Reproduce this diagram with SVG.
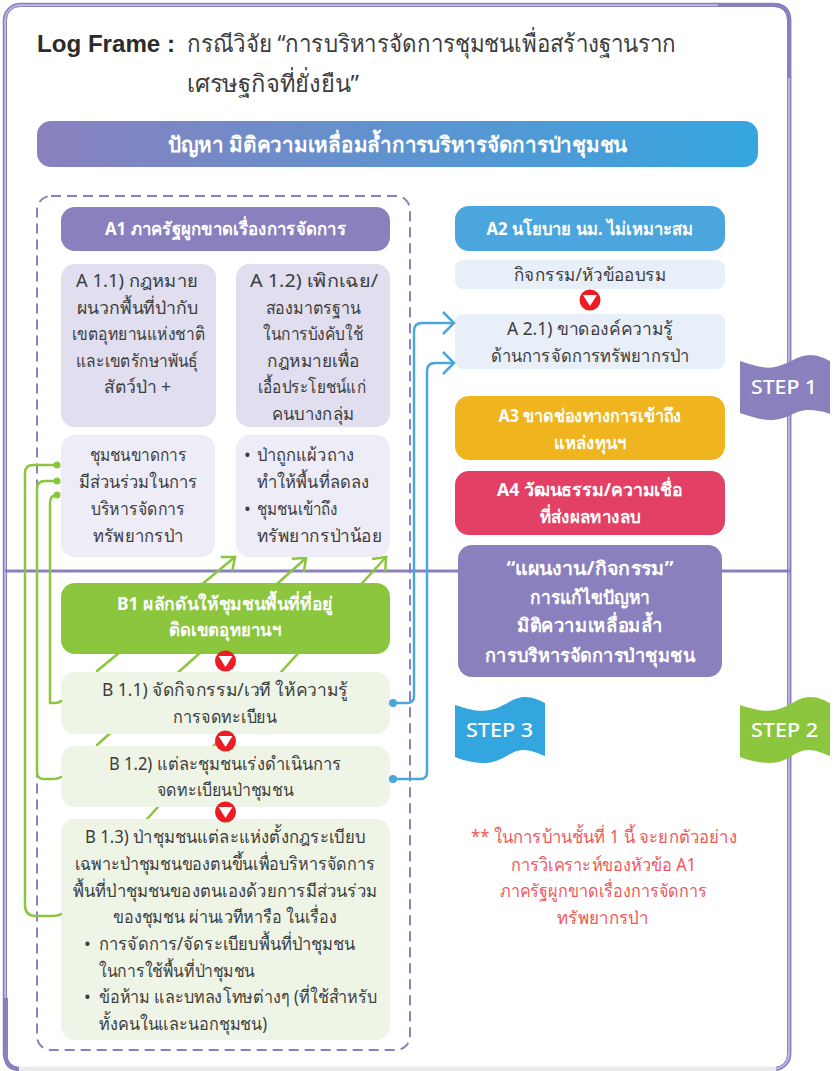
<svg xmlns="http://www.w3.org/2000/svg" width="837" height="1071" viewBox="0 0 837 1071">
<style>
text{font-family:"Noto Sans","Liberation Sans","DejaVu Sans",sans-serif;font-size:18px;fill:#3d3d3d;text-anchor:middle}
.l{text-anchor:start}
.w{fill:#fff;font-weight:700}
.r{fill:#f0575a}
.g{fill:none;stroke:#8cc63f;stroke-width:2.5;stroke-linecap:round;stroke-linejoin:round}
.b{fill:none;stroke:#4ba6de;stroke-width:2.5;stroke-linejoin:round}
.tri{fill:#fff}
.cir{fill:#ed1c24}
</style>
<defs>
<linearGradient id="hd"><stop offset="0" stop-color="#8a80be"/><stop offset="1" stop-color="#33a6e0"/></linearGradient>
<marker id="ga" markerUnits="userSpaceOnUse" markerWidth="24" markerHeight="24" refX="18" refY="12" orient="auto"><path d="M7 3 L18 12 L7 21" fill="none" stroke="#8cc63f" stroke-width="2.5"/></marker>
<marker id="ba" markerUnits="userSpaceOnUse" markerWidth="24" markerHeight="24" refX="18" refY="12" orient="auto"><path d="M7 1 L18 12 L7 23" fill="none" stroke="#4ba6de" stroke-width="2.5"/></marker>
<g id="rd"><circle class="cir" r="10.5"/><path class="tri" d="M-7 -5 H7 L0 6 Z"/></g>
</defs>
<rect width="837" height="1071" fill="#fff"/>
<g id="frame" fill="none">
<rect x="5" y="5" width="784.500" height="1064" rx="15" stroke="#c0bbdf" stroke-width="4"/>
<rect x="3.500" y="3.500" width="787" height="1067" rx="17" stroke="#8a80be" stroke-width="1.500"/>
<rect x="6.500" y="6.500" width="781" height="1061" rx="13" stroke="#8a80be" stroke-width="1"/>
<path d="M18 1069 H776" stroke="#ececec" stroke-width="5"/>
<path d="M718 5 H774 Q789 5 789 20 V78" stroke="#8a80be" stroke-width="4"/>
<path d="M6 998 V1056 Q6 1069 19 1069" stroke="#8a80be" stroke-width="4"/>
<path d="M5 571 H790" stroke="#8a80be" stroke-width="3"/>
</g>
<rect id="dash" x="37" y="196" width="373" height="854" rx="14" fill="none" stroke="#8a80be" stroke-width="2" stroke-dasharray="10 6"/>
<g id="connectors-back">
<path class="g" d="M97 671 L235 557" marker-end="url(#ga)"/>
<path class="g" d="M97 745 L306 558" marker-end="url(#ga)"/>
<path class="g" d="M147 819 L386 557" marker-end="url(#ga)"/>
</g>
<g id="title"><text class="l" x="37" y="52" style="font-size:24px;font-weight:700;fill:#2b2b2b;font-family:'Liberation Sans',sans-serif" textLength="138" lengthAdjust="spacingAndGlyphs">Log Frame :</text>
<text class="l" x="187" y="52" style="font-size:24px" textLength="489" lengthAdjust="spacingAndGlyphs">กรณีวิจัย “การบริหารจัดการชุมชนเพื่อสร้างฐานราก</text>
<text class="l" x="187" y="92" style="font-size:24px" textLength="172" lengthAdjust="spacingAndGlyphs">เศรษฐกิจที่ยั่งยืน”</text></g>
<g id="header"><rect x="37" y="121" width="721" height="46" rx="14" fill="url(#hd)"/><text class="w" x="397.500" y="152" style="font-size:21px" textLength="459" lengthAdjust="spacingAndGlyphs">ปัญหา มิติความเหลื่อมล้ำการบริหารจัดการป่าชุมชน</text></g>
<g id="a1"><rect x="61" y="207" width="329" height="44" rx="14" fill="#8a80be"/><text class="w" x="225.500" y="235" textLength="241" lengthAdjust="spacingAndGlyphs">A1 ภาครัฐผูกขาดเรื่องการจัดการ</text></g>
<g id="a11"><rect x="61" y="264" width="155" height="163" rx="14" fill="#e0deef"/>
<text x="137" y="287" textLength="122" lengthAdjust="spacingAndGlyphs">A 1.1) กฎหมาย</text><text x="137" y="314" textLength="121" lengthAdjust="spacingAndGlyphs">ผนวกพื้นที่ป่ากับ</text><text x="138.500" y="340" textLength="133" lengthAdjust="spacingAndGlyphs">เขตอุทยานแห่งชาติ</text><text x="137" y="367" textLength="122" lengthAdjust="spacingAndGlyphs">และเขตรักษาพันธุ์</text><text x="137.500" y="393" textLength="67" lengthAdjust="spacingAndGlyphs">สัตว์ป่า +</text></g>
<g id="a12"><rect x="236" y="264" width="154" height="163" rx="14" fill="#e0deef"/>
<text x="314" y="287" textLength="128" lengthAdjust="spacingAndGlyphs">A 1.2) เพิกเฉย/</text><text x="313" y="314" textLength="95" lengthAdjust="spacingAndGlyphs">สองมาตรฐาน</text><text x="313" y="340" textLength="100" lengthAdjust="spacingAndGlyphs">ในการบังคับใช้</text><text x="313.500" y="367" textLength="93" lengthAdjust="spacingAndGlyphs">กฎหมายเพื่อ</text><text x="312" y="393" textLength="108" lengthAdjust="spacingAndGlyphs">เอื้อประโยชน์แก่</text><text x="313" y="420" textLength="82" lengthAdjust="spacingAndGlyphs">คนบางกลุ่ม</text></g>
<g id="a13"><rect x="61" y="435" width="154" height="122" rx="14" fill="#eeecf7"/>
<text x="138" y="461" textLength="97" lengthAdjust="spacingAndGlyphs">ชุมชนขาดการ</text><text x="138" y="488" textLength="118" lengthAdjust="spacingAndGlyphs">มีส่วนร่วมในการ</text><text x="138" y="515" textLength="94" lengthAdjust="spacingAndGlyphs">บริหารจัดการ</text><text x="138" y="542" textLength="90" lengthAdjust="spacingAndGlyphs">ทรัพยากรป่า</text></g>
<g id="a14"><rect x="236" y="435" width="154" height="122" rx="14" fill="#eeecf7"/>
<text class="l" x="244" y="461">•</text><text class="l" x="257" y="461" textLength="97" lengthAdjust="spacingAndGlyphs">ป่าถูกแผ้วถาง</text><text class="l" x="257" y="488" textLength="112" lengthAdjust="spacingAndGlyphs">ทำให้พื้นที่ลดลง</text><text class="l" x="244" y="515">•</text><text class="l" x="257" y="515" textLength="81" lengthAdjust="spacingAndGlyphs">ชุมชนเข้าถึง</text><text class="l" x="257" y="542" textLength="125" lengthAdjust="spacingAndGlyphs">ทรัพยากรป่าน้อย</text></g>
<g id="b1"><rect x="61" y="583" width="329" height="71" rx="14" fill="#8cc63f"/><text class="w" x="225" y="610" textLength="216" lengthAdjust="spacingAndGlyphs">B1 ผลักดันให้ชุมชนพื้นที่ที่อยู่</text><text class="w" x="225" y="636" textLength="112" lengthAdjust="spacingAndGlyphs">ติดเขตอุทยานฯ</text></g>
<g id="b11"><rect x="61" y="672" width="329" height="62" rx="14" fill="#eef5e6"/><text x="225" y="696" textLength="246" lengthAdjust="spacingAndGlyphs">B 1.1) จัดกิจกรรม/เวที ให้ความรู้</text><text x="225" y="723" textLength="104" lengthAdjust="spacingAndGlyphs">การจดทะเบียน</text></g>
<g id="b12"><rect x="61" y="746" width="329" height="61" rx="14" fill="#eef5e6"/><text x="225" y="770" textLength="232" lengthAdjust="spacingAndGlyphs">B 1.2) แต่ละชุมชนเร่งดำเนินการ</text><text x="225" y="796" textLength="137" lengthAdjust="spacingAndGlyphs">จดทะเบียนป่าชุมชน</text></g>
<g id="b13"><rect x="61" y="819" width="329" height="221" rx="14" fill="#eef5e6"/>
<text x="225" y="843" textLength="280" lengthAdjust="spacingAndGlyphs">B 1.3) ป่าชุมชนแต่ละแห่งตั้งกฎระเบียบ</text><text x="225" y="870" textLength="300" lengthAdjust="spacingAndGlyphs">เฉพาะป่าชุมชนของตนขึ้นเพื่อบริหารจัดการ</text><text x="225" y="897" textLength="304" lengthAdjust="spacingAndGlyphs">พื้นที่ป่าชุมชนของตนเองด้วยการมีส่วนร่วม</text><text x="225" y="923" textLength="224" lengthAdjust="spacingAndGlyphs">ของชุมชน ผ่านเวทีหารือ ในเรื่อง</text>
<text class="l" x="84" y="950">•</text><text class="l" x="99" y="950" textLength="256" lengthAdjust="spacingAndGlyphs">การจัดการ/จัดระเบียบพื้นที่ป่าชุมชน</text><text class="l" x="99" y="977" textLength="156" lengthAdjust="spacingAndGlyphs">ในการใช้พื้นที่ป่าชุมชน</text><text class="l" x="84" y="1003">•</text><text class="l" x="99" y="1003" textLength="278" lengthAdjust="spacingAndGlyphs">ข้อห้าม และบทลงโทษต่างๆ (ที่ใช้สำหรับ</text><text class="l" x="99" y="1030" textLength="168" lengthAdjust="spacingAndGlyphs">ทั้งคนในและนอกชุมชน)</text></g>
<g id="a2"><rect x="455" y="206" width="270" height="45" rx="14" fill="#4ba6de"/><text class="w" x="590" y="235" textLength="207" lengthAdjust="spacingAndGlyphs">A2 นโยบาย นม. ไม่เหมาะสม</text></g>
<g id="a2act"><rect x="455" y="260" width="270" height="29" rx="8" fill="#e8eff9"/><text x="590" y="281" textLength="152" lengthAdjust="spacingAndGlyphs">กิจกรรม/หัวข้ออบรม</text></g>
<g id="a21"><rect x="455" y="314" width="270" height="55" rx="8" fill="#e8eff9"/><text x="590" y="335" textLength="166" lengthAdjust="spacingAndGlyphs">A 2.1) ขาดองค์ความรู้</text><text x="590" y="362" textLength="198" lengthAdjust="spacingAndGlyphs">ด้านการจัดการทรัพยากรป่า</text></g>
<g id="a3"><rect x="455" y="396" width="270" height="64" rx="14" fill="#f0b51e"/><text class="w" x="590" y="422" textLength="183" lengthAdjust="spacingAndGlyphs">A3 ขาดช่องทางการเข้าถึง</text><text class="w" x="590" y="449" textLength="72" lengthAdjust="spacingAndGlyphs">แหล่งทุนฯ</text></g>
<g id="a4"><rect x="455" y="471" width="270" height="64" rx="14" fill="#e34065"/><text class="w" x="590" y="496" textLength="186" lengthAdjust="spacingAndGlyphs">A4 วัฒนธรรม/ความเชื่อ</text><text class="w" x="590" y="523" textLength="101" lengthAdjust="spacingAndGlyphs">ที่ส่งผลทางลบ</text></g>
<g id="plan"><rect x="458" y="545" width="264" height="132" rx="14" fill="#8a80be"/><text class="w" x="590" y="575" style="font-size:19px" textLength="167" lengthAdjust="spacingAndGlyphs">“แผนงาน/กิจกรรม”</text><text class="w" x="590" y="604" style="font-size:19px" textLength="121" lengthAdjust="spacingAndGlyphs">การแก้ไขปัญหา</text><text class="w" x="590" y="632" style="font-size:19px" textLength="146" lengthAdjust="spacingAndGlyphs">มิติความเหลื่อมล้ำ</text><text class="w" x="590" y="662" style="font-size:19px" textLength="210" lengthAdjust="spacingAndGlyphs">การบริหารจัดการป่าชุมชน</text></g>
<g id="step1"><path d="M740 361 C755 366 765 369 775 367 C790 364 797 355 810 355 C818 355 824 358 830 361 V414 C822 411 816 410 808 410 C795 410 788 420 770 420 C760 420 750 416 740 413 Z" fill="#8a80be"/><text class="w" x="784" y="394" style="font-size:19px;font-weight:500" textLength="66" lengthAdjust="spacingAndGlyphs">STEP 1</text></g>
<g id="step3"><path d="M455 705 C470 710 480 712 490 710 C505 707 512 697 525 697 C533 697 539 700 545 703 V756 C537 753 531 750 523 750 C510 750 503 763 485 763 C475 763 465 761 455 757 Z" fill="#33a6e0"/><text class="w" x="499.500" y="737" style="font-size:19px;font-weight:500" textLength="67" lengthAdjust="spacingAndGlyphs">STEP 3</text></g>
<g id="step2"><path d="M740 705 C755 710 765 712 775 710 C790 707 797 697 810 697 C818 697 824 700 830 703 V756 C822 753 816 750 808 750 C795 750 788 763 770 763 C760 763 750 761 740 757 Z" fill="#8cc63f"/><text class="w" x="784.500" y="737" style="font-size:19px;font-weight:500" textLength="67" lengthAdjust="spacingAndGlyphs">STEP 2</text></g>
<g id="note"><text class="r" x="604" y="843" textLength="266" lengthAdjust="spacingAndGlyphs">** ในการบ้านชั้นที่ 1 นี้ จะยกตัวอย่าง</text><text class="r" x="603.500" y="871" textLength="185" lengthAdjust="spacingAndGlyphs">การวิเคราะห์ของหัวข้อ A1</text><text class="r" x="603.500" y="897" textLength="207" lengthAdjust="spacingAndGlyphs">ภาครัฐผูกขาดเรื่องการจัดการ</text><text class="r" x="602.500" y="924" textLength="91" lengthAdjust="spacingAndGlyphs">ทรัพยากรป่า</text></g>
<g id="connectors">
<path class="g" d="M57 465 H33 Q25 465 25 473 V905 Q25 916 36 916 H52 Q58 916 61 914"/>
<path class="g" d="M57 481 H45 Q37 481 37 489 V772 Q37 779 44 779 H52 Q58 779 61 777"/>
<path class="g" d="M57 495 Q50 495 50 503 V703 H55 Q59 703 61 701"/>
<circle cx="57" cy="465" r="3.500" fill="#8cc63f"/><circle cx="57" cy="481" r="3.500" fill="#8cc63f"/><circle cx="57" cy="495" r="3.500" fill="#8cc63f"/>
<path class="b" d="M393 703 H407 Q414 703 414 696 V331 Q414 323 422 323 H454" marker-end="url(#ba)"/>
<path class="b" d="M393 779 H420 Q427 779 427 772 V371 Q427 363 435 363 H454" marker-end="url(#ba)"/>
<circle cx="393" cy="703" r="4" fill="#4ba6de"/><circle cx="393" cy="779" r="4" fill="#4ba6de"/>
</g>
<use href="#rd" x="225.500" y="661"/><use href="#rd" x="225.500" y="741"/><use href="#rd" x="225.500" y="812"/><use href="#rd" x="590" y="300"/>
</svg>
